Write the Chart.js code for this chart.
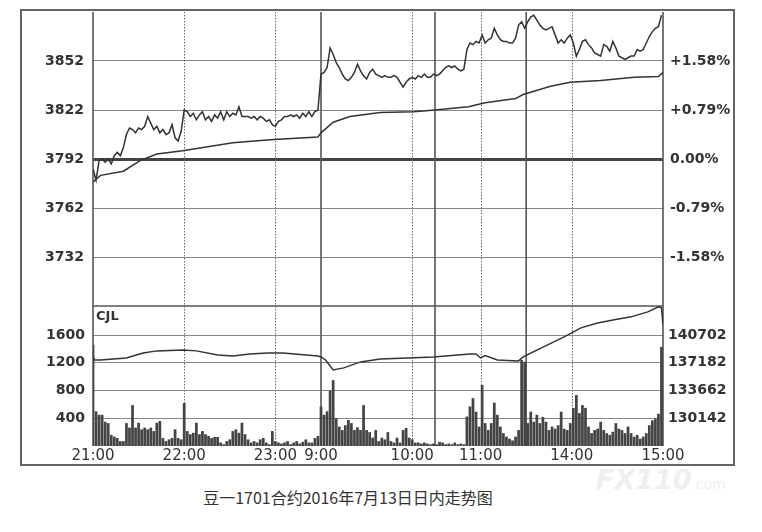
<!DOCTYPE html>
<html>
<head>
<meta charset="utf-8">
<script src="https://cdn.jsdelivr.net/npm/chart.js@4.4.0/dist/chart.umd.min.js"></script>
<style>
  html, body { margin: 0; padding: 0; background: #fff; }
  #wrap { position: relative; width: 762px; height: 532px; overflow: hidden; background: #fff; }
  #mark { position: absolute; left: 596px; top: 464px; font: italic bold 27px "DejaVu Sans"; color: #efefef; z-index: 0; }
  #mark span { font-size: 14px; font-style: normal; font-weight: normal; }
  #frame { position: absolute; left: 20px; top: 9px; width: 715px; height: 457px; border: 2px solid #666; box-sizing: border-box; z-index: 2; }
  #top { position: absolute; left: 0; top: -8px; z-index: 1; }
  #bottom { position: absolute; left: 0; top: 286px; z-index: 1; }
  #cjl { position: absolute; left: 96px; top: 308px; font: bold 13px "DejaVu Sans"; color: #333; z-index: 3; }
  #title { position: absolute; left: 0; width: 696px; top: 485px; text-align: center; font: 16px "Noto Sans CJK SC"; color: #333; }
</style>
</head>
<body>
<div id="wrap">
  <div id="mark">FX110<span>.com</span></div>
  <canvas id="top" width="762" height="334"></canvas>
  <canvas id="bottom" width="762" height="189"></canvas>
  <div id="frame"></div>
  <div id="cjl">CJL</div>
  <div id="title">豆一1701合约2016年7月13日日内走势图</div>
</div>
<script>
// minutes from 21:00 on the trading-session axis (night 150 min + day 225 min)
const basePrice = 3792;
const minuteStep = 2;

const priceValues = [
  3786, 3779, 3791, 3792, 3790, 3792, 3789, 3794, 3796, 3794,
  3799, 3807, 3811, 3810, 3808, 3811, 3810, 3812, 3818, 3814,
  3810, 3812, 3808, 3810, 3807, 3808, 3813, 3805, 3803, 3809,
  3822, 3821, 3818, 3820, 3816, 3819, 3821, 3816, 3818, 3815,
  3819, 3817, 3821, 3816, 3821, 3818, 3820, 3819, 3824, 3818,
  3818, 3818, 3817, 3818, 3816, 3818, 3817, 3815, 3816, 3813,
  3812, 3815, 3816, 3818, 3818, 3819, 3818, 3819, 3817, 3820,
  3818, 3821, 3818, 3821, 3822,
  3844, 3845, 3848, 3860, 3856,
  3851, 3848, 3844, 3841, 3840, 3842, 3845, 3850, 3846, 3843,
  3841, 3845, 3847, 3844, 3843, 3842, 3843, 3842, 3842, 3843,
  3842, 3839, 3836, 3839, 3841, 3842, 3841, 3843, 3842, 3844,
  3842, 3842, 3844, 3843, 3844, 3846, 3848, 3849, 3848, 3849,
  3847, 3846, 3847, 3859, 3863, 3862, 3864, 3863, 3868, 3863,
  3865, 3866, 3872, 3868, 3865, 3864, 3864, 3863, 3863, 3866,
  3874, 3876, 3872, 3876, 3879, 3880, 3877, 3874, 3872, 3871,
  3872, 3873, 3868, 3863, 3865, 3863, 3866, 3868, 3863, 3855,
  3859, 3864, 3865, 3862, 3860, 3857, 3856, 3855, 3862, 3861,
  3858, 3864, 3860, 3855, 3854, 3853, 3854, 3855, 3855, 3859,
  3858, 3859, 3863, 3867, 3870, 3872, 3873, 3880
];

const avgTimes = [0, 5, 20, 31, 42, 59, 92, 119, 148, 150, 158, 169, 189, 211, 225, 247, 258, 278, 283, 301, 314, 334, 356, 372, 375];
const avgValues = [3778, 3782, 3784.5, 3791, 3795, 3797, 3802, 3804, 3805.5, 3808, 3814.5, 3818, 3820.5, 3821, 3822, 3824, 3826.5, 3829, 3831.5, 3836.5, 3839, 3840, 3842, 3842.5, 3845];

const volumeValues = [
  1460, 500, 450, 450, 350, 330, 160, 135, 115, 70,
  70, 330, 265, 590, 265, 335, 240, 265, 240, 265,
  215, 335, 360, 115, 70, 95, 115, 240, 115, 95,
  620, 215, 170, 190, 335, 170, 215, 170, 145, 115,
  130, 130, 50, 25, 70, 95, 215, 240, 190, 335,
  170, 95, 50, 70, 50, 95, 115, 50, 25, 215,
  70, 50, 35, 50, 70, 25, 50, 70, 35, 60,
  95, 50, 50, 115, 145,
  570, 450, 500, 800, 950,
  400, 280, 230, 300, 375, 330, 230, 270, 230, 590,
  230, 200, 120, 230, 70, 120, 95, 200, 70, 50,
  120, 50, 230, 260, 120, 95, 50, 50, 35, 50,
  35, 25, 35, 25, 60, 50, 25, 35, 25, 50,
  25, 35, 25, 425, 570, 690, 495, 280, 880, 330,
  230, 330, 625, 450, 280, 185, 135, 105, 80, 135,
  230, 1240, 1215, 330, 495, 350, 450, 330, 420, 350,
  230, 280, 250, 300, 495, 250, 230, 330, 550, 735,
  475, 590, 550, 280, 185, 230, 250, 350, 230, 185,
  160, 205, 330, 250, 230, 185, 280, 185, 135, 160,
  105, 135, 185, 300, 370, 395, 465, 1430
];

const oiTimes = [0, 1, 5, 22, 33, 42, 59, 68, 82, 92, 103, 115, 125, 148, 150, 153, 158, 165, 176, 189, 207, 224, 248, 252, 255, 258, 266, 280, 283, 295, 310, 321, 332, 343, 354, 365, 372, 374, 375];
const oiValues = [138000, 137550, 137550, 137800, 138440, 138700, 138820, 138700, 138190, 138060, 138315, 138440, 138440, 138060, 137930, 137550, 136280, 136540, 137300, 137680, 137800, 137930, 138315, 138300, 137800, 138100, 137550, 137430, 137930, 139080, 140480, 141620, 142250, 142640, 143020, 143650, 144290, 144160, 142000];

const priceTicks = [3852, 3822, 3792, 3762, 3732];
const pctLabels = ['+1.58%', '+0.79%', '0.00%', '-0.79%', '-1.58%'];
const volTicks = [1600, 1200, 800, 400];
const oiLabels = ['140702', '137182', '133662', '130142'];
const timeTicks = [0, 60, 120, 150, 210, 255, 315, 375];
const timeLabels = ['21:00', '22:00', '23:00', '9:00', '10:00', '11:00', '14:00', '15:00'];
const solidTimes = [0, 150, 225, 285, 375];
const dottedTimes = [60, 120, 210, 255, 315];

const labelFont = { family: 'DejaVu Sans', size: 14, weight: 'bold' };

// vertical session lines, drawn through the x scale
const sessionLines = {
  id: 'sessionLines',
  beforeDatasetsDraw(chart, args, opts) {
    const { ctx, chartArea: a, scales: { x } } = chart;
    ctx.save();
    ctx.strokeStyle = '#555';
    ctx.lineWidth = 1.6;
    solidTimes.forEach(t => {
      const px = x.getPixelForValue(t);
      ctx.beginPath(); ctx.moveTo(px, a.top); ctx.lineTo(px, a.bottom); ctx.stroke();
    });
    ctx.lineWidth = 1;
    ctx.strokeStyle = '#666';
    ctx.setLineDash([1.5, 1.5]);
    dottedTimes.forEach(t => {
      const px = Math.round(x.getPixelForValue(t)) + 0.5;
      ctx.beginPath(); ctx.moveTo(px, a.top); ctx.lineTo(px, a.bottom); ctx.stroke();
    });
    ctx.setLineDash([]);
    if (opts.topLine) {
      ctx.strokeStyle = '#555';
      ctx.lineWidth = 1.6;
      ctx.beginPath(); ctx.moveTo(a.left, a.top); ctx.lineTo(a.right, a.top); ctx.stroke();
    }
    ctx.restore();
  }
};

new Chart(document.getElementById('top'), {
  type: 'line',
  data: {
    datasets: [{
      data: priceValues.map((v, i) => ({ x: i * minuteStep, y: v })),
      borderColor: '#333', borderWidth: 1.5, pointRadius: 0, tension: 0
    }, {
      data: avgTimes.map((t, i) => ({ x: t, y: avgValues[i] })),
      borderColor: '#333', borderWidth: 1.5, pointRadius: 0, tension: 0
    }]
  },
  options: {
    responsive: false,
    animation: false,
    layout: { padding: { top: 20, bottom: 20, left: 0, right: 0 } },
    plugins: { legend: { display: false }, tooltip: { enabled: false }, sessionLines: { topLine: false } },
    scales: {
      x: { type: 'linear', min: 0, max: 375, display: false, offset: false },
      y: {
        position: 'left', min: 3702, max: 3882,
        afterFit: s => { s.width = 93; },
        afterBuildTicks: s => { s.ticks = priceTicks.map(v => ({ value: v })); },
        border: { display: false },
        grid: {
          drawTicks: false,
          color: c => c.tick && c.tick.value === basePrice ? '#444' : '#888',
          lineWidth: c => c.tick && c.tick.value === basePrice ? 3 : 1
        },
        ticks: { padding: 9, color: '#333', font: labelFont, callback: v => String(v) }
      },
      y2: {
        position: 'right', min: 3702, max: 3882,
        afterFit: s => { s.width = 99; },
        afterBuildTicks: s => { s.ticks = priceTicks.map(v => ({ value: v })); },
        border: { display: false },
        grid: { display: false, drawTicks: false },
        ticks: { padding: 7, color: '#333', font: labelFont, callback: (v, i) => pctLabels[i] }
      }
    }
  },
  plugins: [sessionLines]
});

new Chart(document.getElementById('bottom'), {
  type: 'bar',
  data: {
    datasets: [{
      type: 'line', yAxisID: 'y2',
      data: oiTimes.map((t, i) => ({ x: t, y: oiValues[i] })),
      borderColor: '#333', borderWidth: 1.5, pointRadius: 0, tension: 0
    }, {
      type: 'bar', yAxisID: 'y',
      data: volumeValues.map((v, i) => ({ x: i * minuteStep, y: v })),
      backgroundColor: '#444', borderWidth: 0,
      barPercentage: 0.9, categoryPercentage: 1
    }]
  },
  options: {
    responsive: false,
    animation: false,
    layout: { padding: { top: 20, bottom: 0, left: 0, right: 0 } },
    plugins: { legend: { display: false }, tooltip: { enabled: false }, sessionLines: { topLine: true } },
    scales: {
      x: {
        type: 'linear', min: 0, max: 375, offset: false,
        afterFit: s => { s.height = 29; },
        afterBuildTicks: s => { s.ticks = timeTicks.map(v => ({ value: v })); },
        border: { display: false },
        grid: { display: false, offset: false, drawTicks: false },
        ticks: {
          autoSkip: false, maxRotation: 0, padding: 1, color: '#333',
          font: { family: 'DejaVu Sans', size: 15 },
          callback: (v, i) => timeLabels[i]
        }
      },
      y: {
        position: 'left', min: 0, max: 2020,
        afterFit: s => { s.width = 93; },
        afterBuildTicks: s => { s.ticks = volTicks.map(v => ({ value: v })); },
        border: { display: false },
        grid: { drawTicks: false, color: '#888', lineWidth: 1 },
        ticks: { padding: 8, color: '#333', font: labelFont, callback: v => String(v) }
      },
      y2: {
        position: 'right', min: 126622, max: 144398,
        afterFit: s => { s.width = 99; },
        afterBuildTicks: s => { s.ticks = oiLabels.map(l => ({ value: Number(l) })); },
        border: { display: false },
        grid: { display: false, drawTicks: false },
        ticks: { padding: 5, color: '#333', font: labelFont, callback: v => String(v) }
      }
    }
  },
  plugins: [sessionLines]
});
</script>
</body>
</html>
